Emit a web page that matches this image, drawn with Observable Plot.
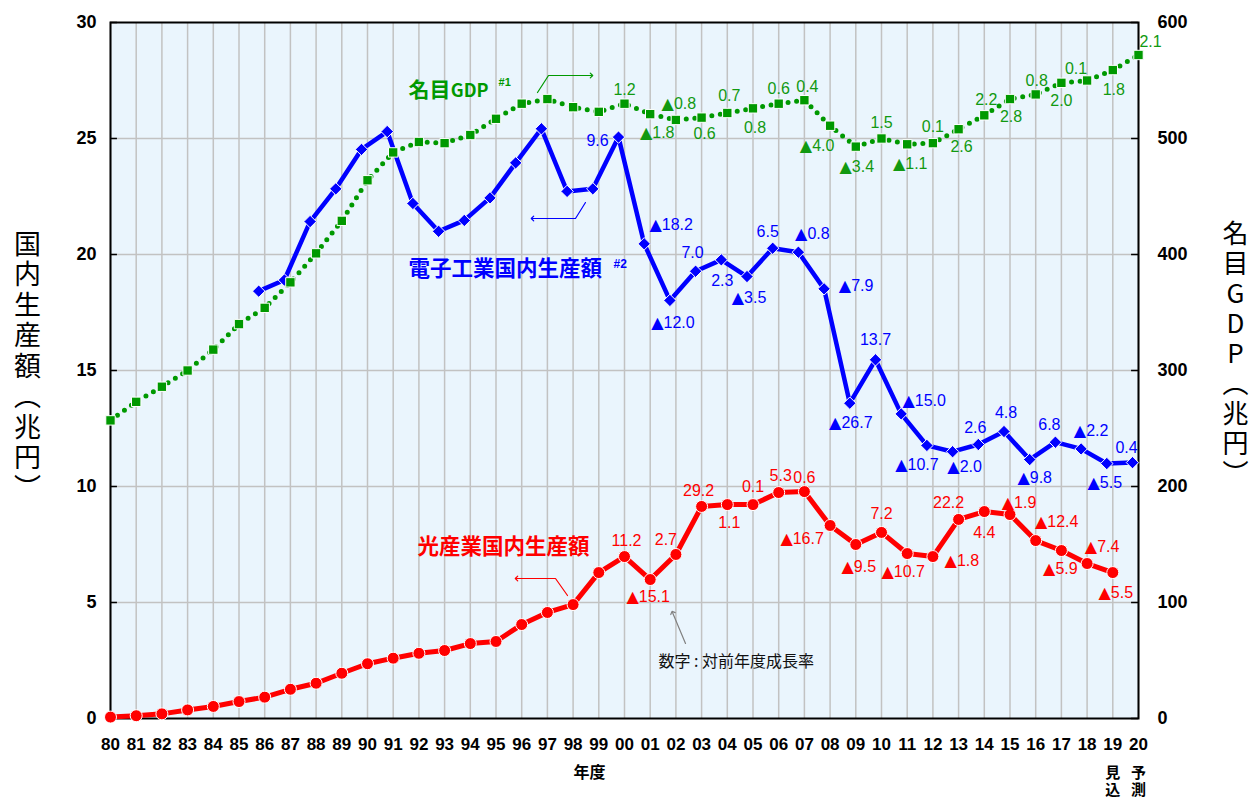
<!DOCTYPE html>
<html><head><meta charset="utf-8">
<script src="https://cdn.jsdelivr.net/npm/d3@7"></script>
<script src="https://cdn.jsdelivr.net/npm/@observablehq/plot@0.6"></script>
<style>html,body{margin:0;padding:0;background:#fff;} svg{display:block;}</style>
</head><body><div id="chart"></div>
<script>
// ---------- data ----------
const years = [1980,1981,1982,1983,1984,1985,1986,1987,1988,1989,1990,1991,1992,1993,1994,1995,1996,1997,1998,1999,2000,2001,2002,2003,2004,2005,2006,2007,2008,2009,2010,2011,2012,2013,2014,2015,2016,2017,2018,2019,2020];
const yearLabels = ["80","81","82","83","84","85","86","87","88","89","90","91","92","93","94","95","96","97","98","99","00","01","02","03","04","05","06","07","08","09","10","11","12","13","14","15","16","17","18","19","20"];
// 名目GDP (兆円, right axis)
const gdp = [257,273,286,300,318,340,354,376,401,429,464,488,497,496,503,517,530,534,527,523,530,521,516,518,522,526,530,533,511,493,500,495,496,508,520,534,538,548,550,559,572];
// 電子工業国内生産額 (兆円)
const electronics = [null,null,null,null,null,null,18.42,18.9,21.42,22.83,24.53,25.3,22.2,21.0,21.47,22.44,23.95,25.42,22.72,22.83,25.06,20.46,18.02,19.28,19.77,19.05,20.27,20.1,18.52,13.59,15.46,13.13,11.77,11.5,11.81,12.37,11.16,11.91,11.62,10.99,11.03];
// 光産業国内生産額 (兆円)
const photonics = [0.06,0.12,0.2,0.37,0.52,0.73,0.92,1.26,1.52,1.95,2.36,2.6,2.81,2.93,3.23,3.32,4.05,4.57,4.91,6.29,6.98,5.99,7.07,9.14,9.22,9.22,9.74,9.78,8.32,7.5,8.02,7.11,6.98,8.58,8.92,8.79,7.67,7.24,6.68,6.29,null];

// growth-rate labels (対前年度成長率)
const rateYears = [2000,2001,2002,2003,2004,2005,2006,2007,2008,2009,2010,2011,2012,2013,2014,2015,2016,2017,2018,2019,2020];
const gdpRates = ["1.2","▲1.8","▲0.8","0.6","0.7","0.8","0.6","0.4","▲4.0","▲3.4","1.5","▲1.1","0.1","2.6","2.2","2.8","0.8","2.0","0.1","1.8","2.1"];
const elecRates = ["9.6","▲18.2","▲12.0","7.0","2.3","▲3.5","6.5","▲0.8","▲7.9","▲26.7","13.7","▲15.0","▲10.7","▲2.0","2.6","4.8","▲9.8","6.8","▲2.2","▲5.5","0.4"];
const photRates = ["11.2","▲15.1","2.7","29.2","1.1","0.1","5.3","0.6","▲16.7","▲9.5","7.2","▲10.7","▲1.8","22.2","4.4","▲1.9","▲12.4","▲5.9","▲7.4","▲5.5"];

const yTicks = [0,5,10,15,20,25,30];
const rightTickLabels = ["0","100","200","300","400","500","600"];

const LEFT_TITLE = "国内生産額（兆円）";
const RIGHT_TITLE = "名目GDP（兆円）";
const VERTICAL_SPACING = {[LEFT_TITLE]: "3.5px", [RIGHT_TITLE]: "4px", "見込": "2px", "予測": "2px"};

// ---------- label placement (pixel offsets from the point) ----------
const gdpOff = [[0,-14],[7,19],[3,-16],[3,16],[2,-17],[2,20],[0,-15],[3,-13],[-13,20],[1,20],[0,-16],[3,20],[0,-16],[3,18],[2,-15],[1,18],[1,-14],[0,18],[-11,-12],[1,20],[12,-13]];
const elecOff = [[-21,4],[27,-19],[3,22],[-3,-18],[1,21],[2,21],[-5,-16],[14,-18],[32,-3],[1,20],[0,-20],[23,-13],[-10,19],[12,15],[-3,-17],[2,-19],[5,18],[-6,-17],[10,-18],[-2,19],[-6,-15]];
const photOff = [[2,-16],[-2,17],[-10,-15],[-3,-16],[2,18],[0,-18],[2,-17],[0,-14],[-28,13],[3,22],[0,-19],[-4,18],[29,4],[-10,-17],[0,21],[9,-12],[21,-19],[-1,18],[15,-17],[3,20]];

const GDP_PER_UNIT = 600 / 30;
const ELEC_SHIFT = -6;

const GREEN = "#009900", GREEN_T = "#119911", BLUE = "#0000FF", RED = "#FF0000";
const JP = "'Noto Sans CJK JP','Noto Sans CJK SC',sans-serif";
const LAT = "'Liberation Sans',Arial,'DejaVu Sans',sans-serif";
const NARROW = "'Liberation Sans Narrow','Arial Narrow','Liberation Sans',Arial,sans-serif";

const rows = years.map((year, i) => ({year, gdp: gdp[i], elec: electronics[i], phot: photonics[i]}));
const gdpRows = rows;
const elecRows = rows.filter(d => d.elec != null);
const photRows = rows.filter(d => d.phot != null);

function labelMarks(texts, offs, valueOf, color, shift = 0) {
  return texts.map((t, i) => {
    const yr = rateYears[i];
    return Plot.text([{yr, t}], {
      x: "yr", y: d => valueOf(d.yr), text: "t",
      dx: offs[i][0] + shift, dy: offs[i][1],
      fill: color, fontSize: 16, fontFamily: LAT
    });
  });
}
const gdpAt = yr => gdp[years.indexOf(yr)] / GDP_PER_UNIT;
const elecAt = yr => electronics[years.indexOf(yr)];
const photAt = yr => photonics[years.indexOf(yr)];

// annotation arrows (chart coordinates)
const gdpArrow = [[1996.615,26.983],[1997.043,27.716],[1998.716,27.716]];
const elecArrow = [[1998.482,22.241],[1998.093,21.552],[1996.42,21.552]];
const photArrow = [[1997.782,5.302],[1997.315,6.034],[1995.798,6.034]];
const noteArrow = [[2002.374,3.233],[2001.868,4.569]];

const arrowLine = (pts, color, w = 1.2) => Plot.line(pts, {x: d => d[0], y: d => d[1], stroke: color, strokeWidth: w, markerEnd: "arrow"});

const chart = Plot.plot({
  width: 1252, height: 798,
  marginLeft: 110, marginRight: 114, marginTop: 22, marginBottom: 80,
  style: {fontFamily: LAT, background: "#fff", color: "#000"},
  x: {domain: [1980, 2020]},
  y: {domain: [0, 30]},
  marks: [
    Plot.frame({fill: "#EAF5FD", stroke: null}),
    Plot.ruleX(years, {stroke: "#C2C2C2", strokeWidth: 1.5}),
    Plot.ruleY([5,10,15,20,25], {stroke: "#C2C2C2", strokeWidth: 1.5}),
    Plot.frame({stroke: "#000", strokeWidth: 2}),
    Plot.ruleY(yTicks, {x1: 1980, x2: 1980.27, stroke: "#000", strokeWidth: 1.5}),
    Plot.ruleY(yTicks, {x1: 2019.73, x2: 2020, stroke: "#000", strokeWidth: 1.5}),

    // electronics
    Plot.line(elecRows, {x: "year", y: "elec", stroke: BLUE, strokeWidth: 4.5, strokeLinejoin: "round", dx: ELEC_SHIFT}),
    Plot.dot(elecRows, {x: "year", y: "elec", symbol: "diamond2", r: 5.6, fill: BLUE, stroke: "#fff", strokeWidth: 1, dx: ELEC_SHIFT}),
    // GDP
    Plot.line(gdpRows, {x: "year", y: d => d.gdp / GDP_PER_UNIT, stroke: GREEN, strokeWidth: 5, strokeDasharray: "0 8.6", strokeLinecap: "round"}),
    Plot.dot(gdpRows, {x: "year", y: d => d.gdp / GDP_PER_UNIT, symbol: "square", r: 5.3, fill: GREEN, stroke: "#fff", strokeWidth: 1}),
    // photonics
    Plot.line(photRows, {x: "year", y: "phot", stroke: RED, strokeWidth: 5, strokeLinejoin: "round"}),
    Plot.dot(photRows, {x: "year", y: "phot", r: 6, fill: RED, stroke: "#fff", strokeWidth: 1}),

    ...labelMarks(gdpRates, gdpOff, gdpAt, GREEN_T),
    ...labelMarks(elecRates, elecOff, elecAt, BLUE, ELEC_SHIFT),
    ...labelMarks(photRates, photOff, photAt, RED),

    // series titles
    Plot.text(["名目"], {x: () => 1991.595, y: () => 27.069, text: d => d, textAnchor: "start", fill: GREEN, fontSize: 21, fontWeight: "bold", fontFamily: JP}),
    Plot.text(["GDP"], {x: () => 1993.24, y: () => 27.03, text: d => d, textAnchor: "start", fill: GREEN, fontSize: 18, fontWeight: "bold", fontFamily: JP}),
    Plot.text(["#1"], {x: () => 1995.1, y: () => 27.414, text: d => d, textAnchor: "start", fill: GREEN, fontSize: 11, fontWeight: "bold", fontFamily: LAT}),
    Plot.text(["電子工業国内生産額"], {x: () => 1991.595, y: () => 19.353, text: d => d, textAnchor: "start", fill: BLUE, fontSize: 21.5, fontWeight: "bold", fontFamily: JP}),
    Plot.text(["#2"], {x: () => 1999.572, y: () => 19.569, text: d => d, textAnchor: "start", fill: BLUE, fontSize: 12, fontWeight: "bold", fontFamily: LAT}),
    Plot.text(["光産業国内生産額"], {x: () => 1991.946, y: () => 7.371, text: d => d, textAnchor: "start", fill: RED, fontSize: 21.5, fontWeight: "bold", fontFamily: JP}),
    Plot.text(["数字 : 対前年度成長率"], {x: () => 2001.323, y: () => 2.457, text: d => d, textAnchor: "start", fill: "#111", fontSize: 16, fontFamily: JP}),

    arrowLine(gdpArrow, GREEN),
    arrowLine(elecArrow, BLUE),
    arrowLine(photArrow, RED),
    arrowLine(noteArrow, "#808080"),

    // axes
    Plot.axisY(yTicks, {anchor: "left", tickSize: 0, tickPadding: 14, fontSize: 18, fontWeight: "bold", fontFamily: LAT, label: null}),
    Plot.axisY(yTicks, {anchor: "right", tickSize: 0, tickPadding: 19, tickFormat: d => rightTickLabels[yTicks.indexOf(d)], fontSize: 18, fontWeight: "bold", fontFamily: LAT, label: null}),
    Plot.axisX(years, {tickSize: 0, tickPadding: 19, tickFormat: d => yearLabels[years.indexOf(d)], fontSize: 17, fontWeight: "bold", fontFamily: NARROW, label: null}),

    // axis titles
    Plot.text(["年度"], {x: () => 1998.638, y: () => 0, text: d => d, dy: 54, fontSize: 16, fontWeight: "bold", fontFamily: JP}),
    Plot.text(["見込"], {x: () => 2019, y: () => 0, text: d => d, dy: 58, textAnchor: "middle", fontSize: 15, fontWeight: "bold", fontFamily: JP}),
    Plot.text(["予測"], {x: () => 2020, y: () => 0, text: d => d, dy: 58, textAnchor: "middle", fontSize: 15, fontWeight: "bold", fontFamily: JP}),
    Plot.text([LEFT_TITLE], {frameAnchor: "left", textAnchor: "middle", text: d => d, dx: -83, dy: -12, fontSize: 27, fontFamily: JP}),
    Plot.text([RIGHT_TITLE], {frameAnchor: "right", textAnchor: "middle", text: d => d, dx: 97, dy: -24, fontSize: 26, fontFamily: JP})
  ]
});

// vertical (upright) texts and larger ▲ glyphs
d3.select(chart).selectAll("text").each(function() {
  const sel = d3.select(this);
  const t = this.textContent;
  if (t in VERTICAL_SPACING) {
    sel.style("writing-mode", "vertical-rl").style("text-orientation", "upright").style("letter-spacing", VERTICAL_SPACING[t]).attr("dy", null);
  } else if (t.startsWith("▲") && this.childElementCount === 0) {
    sel.text(null);
    sel.append("tspan").attr("font-family", "'DejaVu Sans'").text("▲");
    sel.append("tspan").text(t.slice(1));
  }
});
document.getElementById("chart").appendChild(chart);
</script></body></html>
